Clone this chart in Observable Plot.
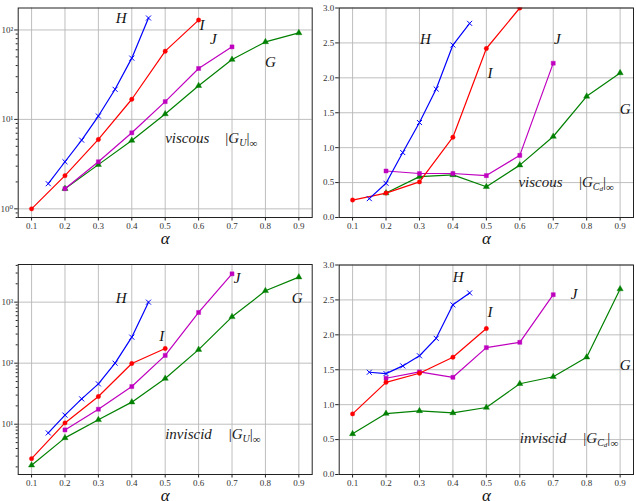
<!DOCTYPE html>
<html>
<head>
<meta charset="utf-8">
<script src="https://cdn.jsdelivr.net/npm/d3@7"></script>
<script src="https://cdn.jsdelivr.net/npm/@observablehq/plot@0.6"></script>
<style>
  html, body { margin: 0; padding: 0; background: #fff; }
  #fig { position: relative; width: 636px; height: 501px; overflow: hidden; }
</style>
</head>
<body>
<div id="fig"></div>
<script>
// Mach-number sweep (alpha) for the four configurations G, H, I, J
const alphaH = [0.15, 0.2, 0.25, 0.3, 0.35, 0.4, 0.45];
const alphaI = [0.1, 0.2, 0.3, 0.4, 0.5, 0.6];
const alphaJ = [0.2, 0.3, 0.4, 0.5, 0.6, 0.7];
const alphaG = [0.1, 0.2, 0.3, 0.4, 0.5, 0.6, 0.7, 0.8, 0.9];
const alphaTicks = [0.1, 0.2, 0.3, 0.4, 0.5, 0.6, 0.7, 0.8, 0.9];

// viscous |G_U|_inf
const visGU_H = [1.91, 3.36, 5.86, 10.9, 21.7, 48.4, 136];
const visGU_I = [1.0, 2.35, 5.97, 16.8, 57.9, 129];
const visGU_J = [1.68, 3.36, 7.08, 15.8, 37.1, 64.7];
const visGU_G = [null, 1.68, 3.12, 5.81, 11.5, 23.8, 46.7, 73.5, 92.6];

// viscous |G_Cd|_inf
const visGC_H = [0.27, 0.49, 0.93, 1.36, 1.84, 2.47, 2.78];
const visGC_I = [0.25, 0.35, 0.51, 1.15, 2.42, 3.0];
const visGC_J = [0.666, 0.63, 0.63, 0.60, 0.89, 2.21];
const visGC_G = [null, 0.35, 0.585, 0.61, 0.44, 0.75, 1.16, 1.735, 2.07];

// inviscid |G_U|_inf
const invGU_H = [7.2, 14.1, 26.0, 45.8, 100, 267, 1000];
const invGU_I = [2.73, 10.5, 28.4, 98.8, 174];
const invGU_J = [8.07, 17.6, 41.4, 134, 678, 2911];
const invGU_G = [2.13, 5.97, 11.8, 23.0, 56.1, 167, 575, 1535, 2571];

// inviscid |G_Cd|_inf
const invGC_H = [1.464, 1.445, 1.555, 1.70, 1.95, 2.43, 2.60];
const invGC_I = [0.868, 1.32, 1.45, 1.68, 2.09];
const invGC_J = [1.378, 1.469, 1.392, 1.817, 1.893, 2.575];
const invGC_G = [0.582, 0.873, 0.911, 0.882, 0.959, 1.30, 1.40, 1.68, 2.656];

const linTicks = [0, 0.5, 1.0, 1.5, 2.0, 2.5, 3.0];

const FONT = "'Liberation Serif', 'DejaVu Serif', serif";

const seriesStyle = {
  H: {color: "#0000ff", symbol: "times", r: 2.4, filled: false},
  I: {color: "#ff0000", symbol: "circle", r: 2.2, filled: true},
  J: {color: "#bf00bf", symbol: "square", r: 2.3, filled: true},
  G: {color: "#008000", symbol: "triangle", r: 2.3, filled: true}
};

function rows(alphas, values) {
  const out = [];
  values.forEach((v, i) => { if (v != null) out.push({a: alphas[i], v}); });
  return out;
}

function seriesMarks(name, data, clip) {
  const s = seriesStyle[name];
  return [
    Plot.line(data, {x: "a", y: "v", stroke: s.color, strokeWidth: 1.2, clip}),
    Plot.dot(data, {
      x: "a", y: "v", symbol: () => s.symbol, r: s.r, clip,
      fill: s.filled ? s.color : "none",
      stroke: s.color, strokeWidth: s.filled ? 0.4 : 1
    })
  ];
}

function logMinor(lo, hi) {
  const t = [];
  for (let e = -1; e <= 4; e++) {
    for (let m = 2; m <= 9; m++) {
      const v = m * Math.pow(10, e);
      if (v >= lo && v <= hi) t.push(v);
    }
  }
  return t;
}

const sup = {"-1": "⁻¹", "0": "⁰", "1": "¹", "2": "²", "3": "³", "4": "⁴"};
const logFmt = d => "10" + sup[String(Math.round(Math.log10(d)))];

function panel(cfg) {
  const isLog = cfg.yType === "log";
  const marks = [
    Plot.gridX(alphaTicks, {stroke: "#b8b8b8", strokeOpacity: 1, strokeWidth: 0.9}),
    Plot.gridY(cfg.yTicks, {stroke: "#b8b8b8", strokeOpacity: 1, strokeWidth: 0.9}),
    Plot.axisX(alphaTicks, {tickFormat: d => d.toFixed(1), tickSize: 3.5, tickPadding: 2, fontSize: 9, label: null, stroke: "#222", fill: "#333"}),
    Plot.axisY(cfg.yTicks, {tickFormat: isLog ? logFmt : d => d.toFixed(1), tickSize: 3.5, tickPadding: 1.5, fontSize: 9, label: null, stroke: "#222", fill: "#333"})
  ];
  if (isLog) {
    marks.push(Plot.axisY(logMinor(cfg.yDomain[0], cfg.yDomain[1]), {tickFormat: () => "", tickSize: 2, label: null, stroke: "#222"}));
  }
  for (const name of ["G", "J", "I", "H"]) {
    marks.push(...seriesMarks(name, cfg.series[name], cfg.clip));
  }
  // curve names
  marks.push(Plot.text(cfg.names, {
    x: "a", y: "v", text: "t", fontSize: 15, fontStyle: "italic",
    fontFamily: FONT, fill: "#111", textAnchor: "middle"
  }));
  // flow regime word
  marks.push(Plot.text([cfg.regime], {
    x: "a", y: "v", text: "t", fontSize: 15, fontStyle: "italic",
    fontFamily: FONT, fill: "#222", textAnchor: "start"
  }));
  // norm expression placeholder, filled with tspans below
  marks.push(Plot.text([cfg.norm], {
    x: "a", y: "v", text: () => "NORM", fontSize: 15,
    fontFamily: FONT, fill: "#222", textAnchor: "start"
  }));
  // x label
  marks.push(Plot.text(["α"], {
    frameAnchor: "bottom", dy: 26.5, fontSize: 17, fontStyle: "italic",
    fontFamily: FONT, fill: "#111"
  }));
  marks.push(Plot.frame({stroke: "#222", strokeWidth: 1}));

  const svg = Plot.plot({
    width: 318,
    height: 250,
    marginLeft: cfg.ml,
    marginRight: cfg.mr,
    marginTop: cfg.mt,
    marginBottom: cfg.mb,
    style: {fontFamily: FONT, fontSize: "9px", background: "transparent", overflow: "visible"},
    x: {domain: [0.06, 0.94], axis: null},
    y: {type: isLog ? "log" : "linear", domain: cfg.yDomain, axis: null},
    marks
  });

  // build the |G_sub|_inf expression
  d3.select(svg).selectAll("text").each(function () {
    if (this.textContent !== "NORM") return;
    const t = d3.select(this);
    t.text(null);
    t.append("tspan").text("|");
    t.append("tspan").attr("font-style", "italic").text("G");
    if (cfg.sub === "U") {
      t.append("tspan").attr("font-style", "italic").attr("font-size", 10).attr("dy", 3).text("U");
      t.append("tspan").attr("dy", -3).text("|");
    } else {
      t.append("tspan").attr("font-style", "italic").attr("font-size", 10).attr("dy", 3).text("C");
      t.append("tspan").attr("font-style", "italic").attr("font-size", 7).attr("dy", 1.5).text("d");
      t.append("tspan").attr("dy", -4.5).text("|");
    }
    t.append("tspan").attr("font-size", 11).attr("dy", 4).text("∞");
  });

  svg.style.position = "absolute";
  svg.style.left = cfg.left + "px";
  svg.style.top = cfg.top + "px";
  return svg;
}

const fig = document.getElementById("fig");

fig.appendChild(panel({
  left: 0, top: 0, ml: 17.7, mr: 6.3, mt: 7.5, mb: 33,
  yType: "log", yDomain: [0.80, 176], yTicks: [1, 10, 100],
  series: {
    H: rows(alphaH, visGU_H), I: rows(alphaI, visGU_I),
    J: rows(alphaJ, visGU_J), G: rows(alphaG, visGU_G)
  },
  names: [{a: 0.368, v: 136, t: "H"}, {a: 0.61, v: 114, t: "I"}, {a: 0.644, v: 78, t: "J"}, {a: 0.815, v: 44, t: "G"}],
  regime: {a: 0.5, v: 6.1, t: "viscous"},
  norm: {a: 0.68, v: 6.1},
  sub: "U"
}));

fig.appendChild(panel({
  left: 318, top: 0, ml: 20.7, mr: 3, mt: 7.5, mb: 33,
  yType: "linear", yDomain: [0, 3], yTicks: linTicks, clip: true,
  series: {
    H: rows(alphaH, visGC_H), I: rows(alphaI, visGC_I),
    J: rows(alphaJ, visGC_J), G: rows(alphaG, visGC_G)
  },
  names: [{a: 0.318, v: 2.55, t: "H"}, {a: 0.511, v: 2.07, t: "I"}, {a: 0.712, v: 2.55, t: "J"}, {a: 0.915, v: 1.545, t: "G"}],
  regime: {a: 0.596, v: 0.51, t: "viscous"},
  norm: {a: 0.777, v: 0.51},
  sub: "Cd"
}));

fig.appendChild(panel({
  left: 0, top: 250, ml: 17.7, mr: 6.3, mt: 14, mb: 26,
  yType: "log", yDomain: [1.50, 4140], yTicks: [10, 100, 1000],
  series: {
    H: rows(alphaH, invGU_H), I: rows(alphaI, invGU_I),
    J: rows(alphaJ, invGU_J), G: rows(alphaG, invGU_G)
  },
  names: [{a: 0.368, v: 1164, t: "H"}, {a: 0.49, v: 273, t: "I"}, {a: 0.715, v: 2473, t: "J"}, {a: 0.895, v: 1164, t: "G"}],
  regime: {a: 0.5, v: 6.95, t: "inviscid"},
  norm: {a: 0.69, v: 6.95},
  sub: "U"
}));

fig.appendChild(panel({
  left: 318, top: 250, ml: 20.7, mr: 3, mt: 14.5, mb: 26,
  yType: "linear", yDomain: [0, 3], yTicks: linTicks,
  series: {
    H: rows(alphaH, invGC_H), I: rows(alphaI, invGC_I),
    J: rows(alphaJ, invGC_J), G: rows(alphaG, invGC_G)
  },
  names: [{a: 0.416, v: 2.82, t: "H"}, {a: 0.511, v: 2.32, t: "I"}, {a: 0.762, v: 2.575, t: "J"}, {a: 0.915, v: 1.56, t: "G"}],
  regime: {a: 0.6, v: 0.52, t: "inviscid"},
  norm: {a: 0.79, v: 0.52},
  sub: "Cd"
}));
</script>
</body>
</html>
